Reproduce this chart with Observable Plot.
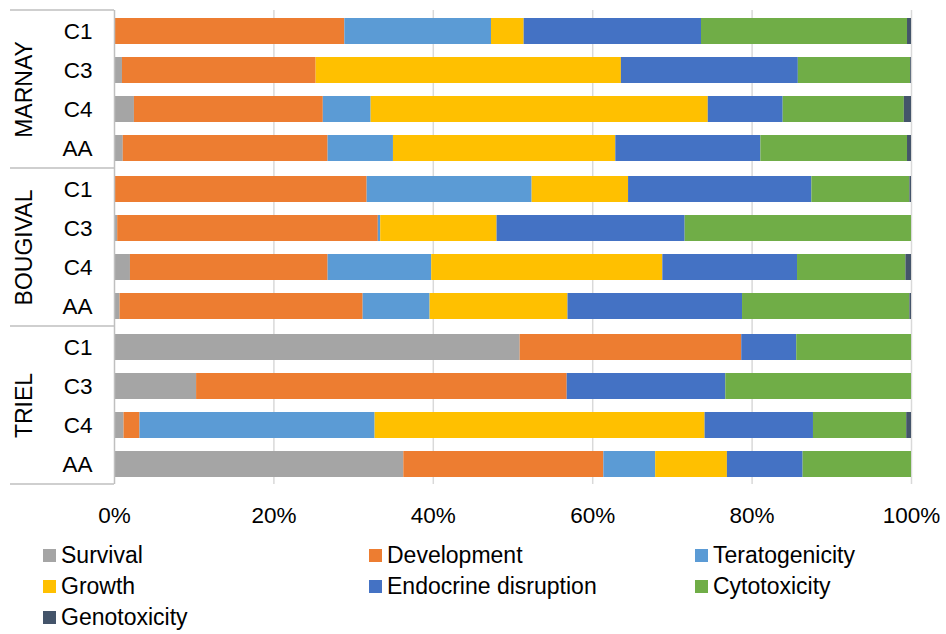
<!DOCTYPE html>
<html>
<head>
<meta charset="utf-8">
<script src="https://cdn.jsdelivr.net/npm/d3@7"></script>
<script src="https://cdn.jsdelivr.net/npm/@observablehq/plot@0.6"></script>
<style>
  html, body { margin: 0; padding: 0; background: #fff; }
  body { width: 946px; height: 634px; overflow: hidden; font-family: "Liberation Sans", Arial, sans-serif; }
  #chart svg { display: block; }
  #legend { display: grid; grid-template-columns: 326px 326px 326px; padding-left: 43px; padding-top: 10px; }
  #legend .item { font-size: 23px; line-height: 31px; height: 31px; color: #000; white-space: nowrap; display: flex; align-items: center; }
  #legend .sw { width: 13px; height: 13px; display: inline-block; margin-right: 5px; }
</style>
</head>
<body>
<div id="chart"></div>
<div id="legend"></div>
<script>
// ---- data ----
const sites = ["MARNAY", "BOUGIVAL", "TRIEL"];
const conditions = ["C1", "C3", "C4", "AA"];
const metrics = ["Survival", "Development", "Teratogenicity", "Growth", "Endocrine disruption", "Cytotoxicity", "Genotoxicity"];
const colors = ["#A5A5A5", "#ED7D31", "#5B9BD5", "#FFC000", "#4472C4", "#70AD47", "#44546A"];

// row order: MARNAY C1,C3,C4,AA | BOUGIVAL C1,C3,C4,AA | TRIEL C1,C3,C4,AA  (percent)
const survival       = [0,    1.0,  2.5,  1.1,   0,    0.4,  2.0,  0.7,   50.9, 10.3, 1.2,  36.3];
const development    = [28.9, 24.3, 23.7, 25.7,  31.7, 32.7, 24.8, 30.5,  27.8, 46.5, 2.0,  25.1];
const teratogenicity = [18.4, 0,    6.0,  8.2,   20.7, 0.3,  13.0, 8.4,   0,    0,    29.5, 6.5];
const growth         = [4.1,  38.3, 42.3, 27.9,  12.1, 14.6, 29.0, 17.3,  0,    0,    41.4, 9.0];
const endocrine      = [22.25,22.2, 9.4,  18.2,  23.0, 23.6, 16.9, 21.9,  6.9,  19.9, 13.6, 9.5];
const cytotoxicity   = [25.85,14.1, 15.2, 18.4,  12.3, 28.4, 13.6, 21.0,  14.4, 23.3, 11.7, 13.6];
const genotoxicity   = [0.5,  0.1,  0.9,  0.5,   0.2,  0,    0.7,  0.2,   0,    0,    0.6,  0];

const xTicks = [0, 20, 40, 60, 80, 100];

// ---- tidy table ----
const series = [survival, development, teratogenicity, growth, endocrine, cytotoxicity, genotoxicity];
const rows = sites.flatMap(site => conditions.map(cond => ({site, cond})));
const data = rows.flatMap((r, i) => metrics.map((m, k) => ({site: r.site, cond: r.cond, metric: m, value: series[k][i]})));

const font = "'Liberation Sans', Arial, sans-serif";

const plot = Plot.plot({
  width: 946,
  height: 530,
  marginTop: 10,
  marginBottom: 46,
  marginLeft: 114,
  marginRight: 35,
  style: {fontFamily: font, fontSize: "22px", color: "#000", background: "#fff"},
  x: {domain: [0, 100], ticks: xTicks, tickFormat: d => d + "%", label: null},
  y: {domain: conditions, paddingInner: 0.34, paddingOuter: 0.17, label: null},
  fy: {domain: sites, padding: 0, axis: null, label: null},
  color: {domain: metrics, range: colors},
  marks: [
    Plot.gridX({ticks: xTicks.slice(1), stroke: "#d9d9d9", strokeOpacity: 1, strokeWidth: 1.5}),
    Plot.barX(data, Plot.stackX({x: "value", y: "cond", fy: "site", fill: "metric", order: metrics, inset: 0})),
    Plot.ruleX([0], {stroke: "#bfbfbf", strokeWidth: 1.5}),
    Plot.axisY({tickSize: 0, tickPadding: 22, fontSize: 22.5, label: null, fill: "#000"}),
    Plot.axisX({ticks: xTicks, tickFormat: d => d + "%", tickSize: 0, tickPadding: 23, fontSize: 22.5, label: null, fill: "#000"}),
    Plot.text(sites, {fy: d => d, text: d => d, frameAnchor: "left", textAnchor: "middle", lineAnchor: "middle", dx: -90, rotate: -90, fontSize: 23, fill: "#000"})
  ]
});
document.getElementById("chart").appendChild(plot);

// group separator lines in the left label area (from the fy scale)
const fyScale = plot.scale("fy");
const labelLeft = 10;
const ys = sites.map(s => fyScale.apply(s));
ys.push(fyScale.apply(sites[sites.length - 1]) + fyScale.bandwidth);
d3.select(plot).append("g")
  .selectAll("line").data(ys).join("line")
  .attr("x1", labelLeft).attr("x2", 114)
  .attr("y1", d => d).attr("y2", d => d)
  .attr("stroke", "#bfbfbf").attr("stroke-width", 1.5);

// legend
const legend = d3.select("#legend");
metrics.forEach((m, i) => {
  const it = legend.append("div").attr("class", "item");
  it.append("span").attr("class", "sw").style("background", colors[i]);
  it.append("span").text(m);
});
</script>
</body>
</html>
